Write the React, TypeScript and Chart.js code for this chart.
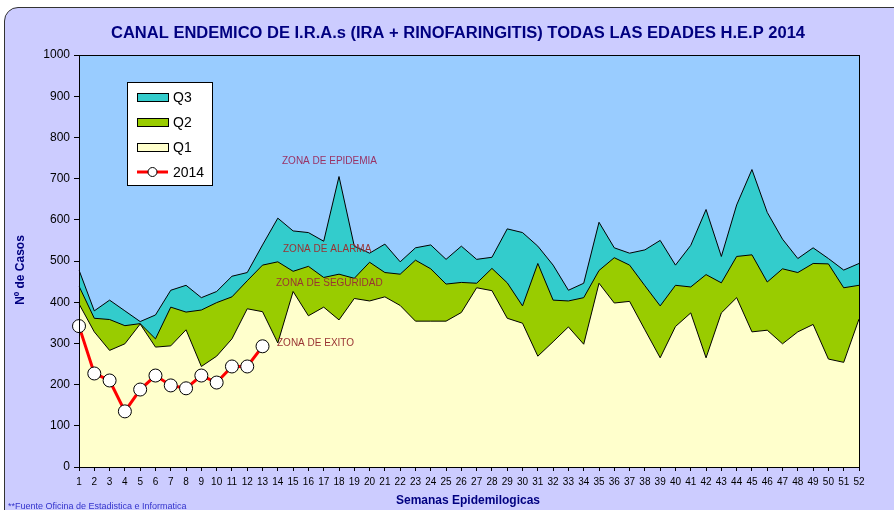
import React, { useEffect, useRef } from "react";
import { Chart, registerables } from "chart.js";

Chart.register(...registerables);

const WEEKS = ["1","2","3","4","5","6","7","8","9","10","11","12","13","14","15","16","17","18","19","20","21","22","23","24","25","26","27","28","29","30","31","32","33","34","35","36","37","38","39","40","41","42","43","44","45","46","47","48","49","50","51","52"];

const Q3 = [478,379,405,379,353,369,429,441,411,426,463,472,539,604,573,569,548,705,536,519,541,498,532,539,504,536,504,509,578,569,536,490,429,446,594,532,519,527,550,490,538,625,511,636,722,618,553,506,532,506,478,494];
const Q2 = [439,361,358,343,348,311,388,376,381,399,413,452,490,498,475,487,460,468,458,497,472,468,502,481,444,448,446,482,447,391,494,405,403,411,477,508,490,440,391,441,437,467,447,511,515,449,481,472,494,493,435,441];
const Q1 = [396,328,283,299,347,291,294,333,244,269,311,384,377,301,426,367,388,357,409,403,413,392,354,354,354,375,435,428,361,349,269,304,340,298,446,398,402,333,265,341,374,265,374,411,328,332,299,328,346,262,254,359];
const Y2014 = [342,227,210,135,188,222,198,191,222,205,244,244,293];

const TITLE = "CANAL ENDEMICO DE I.R.A.s (IRA + RINOFARINGITIS) TODAS LAS EDADES H.E.P 2014";
const Y_TITLE = "Nº de Casos";
const X_TITLE = "Semanas Epidemilogicas";
const FOOTNOTE = "**Fuente Oficina de Estadistica e Informatica";
const ZONES = [
  { text: "ZONA DE EPIDEMIA", x: 282, y: 161, color: "#993366" },
  { text: "ZONA DE ALARMA", x: 283, y: 249, color: "#993333" },
  { text: "ZONA DE SEGURIDAD", x: 276, y: 283, color: "#993333" },
  { text: "ZONA DE EXITO", x: 277, y: 343, color: "#993333" },
];

const FONT = "'Liberation Sans', Arial, sans-serif";
const NAVY = "#000080";

const plotBg = {
  id: "plotBg",
  beforeDraw(chart: any) {
    const { ctx, chartArea: a } = chart;
    ctx.save();
    ctx.fillStyle = "#99CCFF";
    ctx.fillRect(a.left, a.top, a.right - a.left, a.bottom - a.top);
    ctx.restore();
  },
  afterDatasetsDraw(chart: any) {
    const { ctx, chartArea: a } = chart;
    ctx.save();
    ctx.strokeStyle = "#000";
    ctx.lineWidth = 1;
    ctx.strokeRect(a.left + 0.5, a.top + 0.5, a.right - a.left, a.bottom - a.top);
    ctx.restore();
  },
};

function fitText(ctx: any, text: string, cx: number, cy: number, width: number) {
  const w = ctx.measureText(text).width;
  const s = width / w;
  ctx.save();
  ctx.translate(cx, cy);
  ctx.scale(s, 1);
  ctx.textAlign = "center";
  ctx.fillText(text, 0, 0);
  ctx.restore();
}

const texts = {
  id: "texts",
  afterDraw(chart: any) {
    const { ctx, chartArea: a } = chart;
    ctx.save();
    ctx.textBaseline = "middle";
    // title
    ctx.fillStyle = NAVY;
    ctx.font = `bold 16px ${FONT}`;
    fitText(ctx, TITLE, 458, 34, 694);
    // y title
    ctx.save();
    ctx.translate(21, 270);
    ctx.rotate(-Math.PI / 2);
    ctx.font = `bold 12px ${FONT}`;
    ctx.textAlign = "center";
    ctx.fillText(Y_TITLE, 0, 0);
    ctx.restore();
    // x title
    ctx.font = `bold 12px ${FONT}`;
    ctx.textAlign = "center";
    ctx.fillText(X_TITLE, 468, 501);
    // footnote
    ctx.fillStyle = "#3333CC";
    ctx.font = `9px ${FONT}`;
    ctx.textAlign = "left";
    ctx.fillText(FOOTNOTE, 8, 507);
    // zones
    ctx.font = `10px ${FONT}`;
    for (const z of ZONES) {
      ctx.fillStyle = z.color;
      ctx.textAlign = "left";
      ctx.fillText(z.text, z.x, z.y);
    }
    // legend
    const lx = a.left + 48, ly = a.top + 27, lw = 85, lh = 103;
    ctx.fillStyle = "#fff";
    ctx.fillRect(lx, ly, lw, lh);
    ctx.strokeStyle = "#000";
    ctx.lineWidth = 1;
    ctx.strokeRect(lx + 0.5, ly + 0.5, lw, lh);
    const ds = chart.data.datasets.slice().reverse();
    ds.forEach((d: any, i: number) => {
      const cy = ly + 15 + i * 25;
      const sx = lx + 10;
      if (d.fill) {
        ctx.fillStyle = d.backgroundColor;
        ctx.fillRect(sx, cy - 4, 31, 8);
        ctx.strokeStyle = "#000";
        ctx.strokeRect(sx + 0.5, cy - 4 + 0.5, 31, 8);
      } else {
        ctx.strokeStyle = d.borderColor;
        ctx.lineWidth = 3;
        ctx.beginPath();
        ctx.moveTo(sx, cy);
        ctx.lineTo(sx + 31, cy);
        ctx.stroke();
        ctx.lineWidth = 1;
        ctx.fillStyle = "#fff";
        ctx.strokeStyle = "#000";
        ctx.beginPath();
        ctx.arc(sx + 15.5, cy, 4.5, 0, Math.PI * 2);
        ctx.fill();
        ctx.stroke();
      }
      ctx.fillStyle = "#000";
      ctx.font = `14px ${FONT}`;
      ctx.textAlign = "left";
      ctx.fillText(d.label, sx + 36, cy + 1);
    });
    ctx.restore();
  },
};

export default function App() {
  const ref = useRef<HTMLCanvasElement>(null);
  useEffect(() => {
    const area = (label: string, data: number[], color: string) => ({
      label,
      data,
      backgroundColor: color,
      borderColor: "#000",
      borderWidth: 1,
      pointRadius: 0,
      fill: "origin",
      tension: 0,
    });
    const chart = new Chart(ref.current as HTMLCanvasElement, {
      type: "line",
      data: {
        labels: WEEKS,
        datasets: [
          {
            label: "2014",
            data: Y2014,
            borderColor: "#FF0000",
            borderWidth: 3,
            pointRadius: 6.5,
            pointBackgroundColor: "#fff",
            pointBorderColor: "#000",
            pointBorderWidth: 1,
            fill: false,
            tension: 0,
            clip: false,
          } as any,
          area("Q1", Q1, "#FFFFCC"),
          area("Q2", Q2, "#99CC00"),
          area("Q3", Q3, "#33CCCC"),
        ],
      },
      options: {
        animation: false,
        responsive: false,
        devicePixelRatio: 1,
        layout: { padding: { top: 55, right: 35, left: 0, bottom: 0 } },
        plugins: { legend: { display: false }, title: { display: false }, tooltip: { enabled: false } },
        scales: {
          x: {
            type: "category",
            offset: false,
            grid: { display: true, drawOnChartArea: false, drawTicks: true, tickLength: 4, color: "#000" },
            border: { display: true, color: "#000", width: 1 },
            ticks: { autoSkip: false, maxRotation: 0, minRotation: 0, padding: 5, color: "#000", font: { family: FONT, size: 10 } },
            afterFit: (s: any) => { s.height = 43; },
          },
          y: {
            min: 0,
            max: 1000,
            grid: { display: true, drawOnChartArea: false, drawTicks: true, tickLength: 5, color: "#000" },
            border: { display: true, color: "#000", width: 1 },
            ticks: {
              stepSize: 100,
              padding: 4,
              color: "#000",
              font: { family: FONT, size: 12 },
              callback: (v: any) => String(v),
            },
            afterFit: (s: any) => { s.width = 79; },
          },
        },
      } as any,
      plugins: [plotBg, texts],
    });
    return () => chart.destroy();
  }, []);
  return (
    <div style={{ position: "fixed", left: 0, top: 0, width: 894, height: 510, overflow: "hidden", background: "#fff" }}>
      <div style={{ position: "absolute", left: 4, top: 7, width: 1000, height: 1000, border: "1.5px solid #333", borderRadius: 14, background: "#CCCCFF" }} />
      <canvas ref={ref} width={894} height={510} style={{ position: "absolute", left: 0, top: 0, width: 894, height: 510 }} />
    </div>
  );
}
